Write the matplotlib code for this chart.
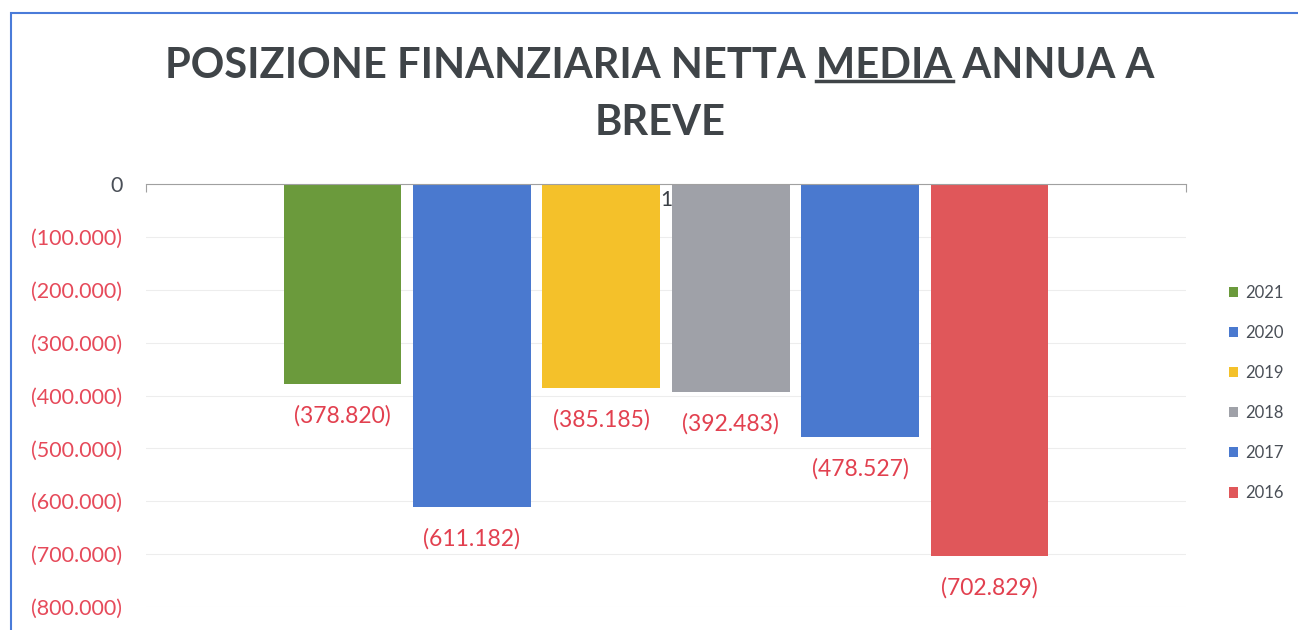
import matplotlib.pyplot as plt
from matplotlib.patches import Rectangle

# dati
anni = ['2021', '2020', '2019', '2018', '2017', '2016']
valori = [-378820, -611182, -385185, -392483, -478527, -702829]
colori = ['#6b9a3c', '#4a79cf', '#f4c12a', '#9fa1a8', '#4a79cf', '#e0575a']
yticks = [0, -100000, -200000, -300000, -400000, -500000, -600000, -700000, -800000]

plt.rcParams['font.family'] = ['Lato', 'DejaVu Sans']


def fmt_it(v):
    # formato contabile italiano: (378.820)
    if v == 0:
        return '0'
    return '(' + f'{abs(v):,}'.replace(',', '.') + ')'


fig = plt.figure(figsize=(12.98, 6.30), dpi=100)
ax = fig.add_axes([146 / 1298, 1 - 607 / 630, 1040 / 1298, 423 / 630])

n = len(anni)
for i, (anno, v, c) in enumerate(zip(anni, valori, colori)):
    x = i - (n - 1) / 2
    ax.bar(x, v, width=0.91, color=c, label=anno, zorder=2)
    ax.annotate(fmt_it(v), (x, v), xytext=(0, -32), textcoords='offset pixels',
                ha='center', va='center', fontsize=16.5, color='#e2404f')

ax.set_xlim(-4.02, 4.02)
ax.set_ylim(-800000, 0)
ax.set_yticks(yticks)
ax.set_yticklabels([fmt_it(v) for v in yticks], fontsize=15.5)
for lab, v in zip(ax.get_yticklabels(), yticks):
    lab.set_color('#4a4f57' if v == 0 else '#e64a5a')
ax.tick_params(axis='y', length=0, pad=17)
ax.grid(axis='y', color='#ededed', lw=0.8, zorder=0)

# asse categorie in alto (sullo zero)
ax.xaxis.tick_top()
ax.set_xticks([-4.02, 4.02])
ax.set_xticklabels(['', ''])
ax.tick_params(axis='x', direction='in', length=6, color='#a0a0a0', width=0.8)
for s in ['left', 'right', 'bottom']:
    ax.spines[s].set_visible(False)
ax.spines['top'].set_color('#a0a0a0')
ax.spines['top'].set_linewidth(0.8)
ax.spines['top'].set_zorder(3)
ax.text(0, -30000, '1', ha='center', va='center', fontsize=15, color='#3a3f45', zorder=4)

ax.legend(loc='center left', bbox_to_anchor=(1.027, 0.506), frameon=False,
          fontsize=12, handlelength=0.55, handleheight=0.55, handletextpad=0.4,
          labelspacing=1.45, labelcolor='#4a4f57')

# titolo con "MEDIA" sottolineato
fs_tit = 30
riga1 = 'POSIZIONE FINANZIARIA NETTA MEDIA ANNUA A'
t1 = fig.text(660 / 1298, 1 - 66 / 630, riga1, ha='center', va='center',
              fontsize=fs_tit, fontweight='bold', color='#3f4448')
fig.text(660 / 1298, 1 - 123 / 630, 'BREVE', ha='center', va='center',
         fontsize=fs_tit, fontweight='bold', color='#3f4448')

fig.canvas.draw()
r = fig.canvas.get_renderer()
bb = t1.get_window_extent(r)
tmp = fig.text(0, 0, 'POSIZIONE FINANZIARIA NETTA MEDIA', fontsize=fs_tit, fontweight='bold')
w_pre = tmp.get_window_extent(r).width
tmp.set_text('MEDIA')
w_med = tmp.get_window_extent(r).width
tmp.remove()
x1 = (bb.x0 + w_pre) / fig.bbox.width
x0 = x1 - w_med / fig.bbox.width
yline = (bb.y0 + 4) / fig.bbox.height
fig.add_artist(plt.Line2D([x0, x1], [yline, yline], transform=fig.transFigure,
                          color='#3f4448', lw=2.5))

# cornice blu del grafico
fig.add_artist(Rectangle((11 / 1298, -0.02), 1.1, 1 - 13 / 630 + 0.02,
                         transform=fig.transFigure, fill=False,
                         edgecolor='#4a7bd9', lw=1.5, clip_on=False))

fig.savefig('out.png', dpi=100)
